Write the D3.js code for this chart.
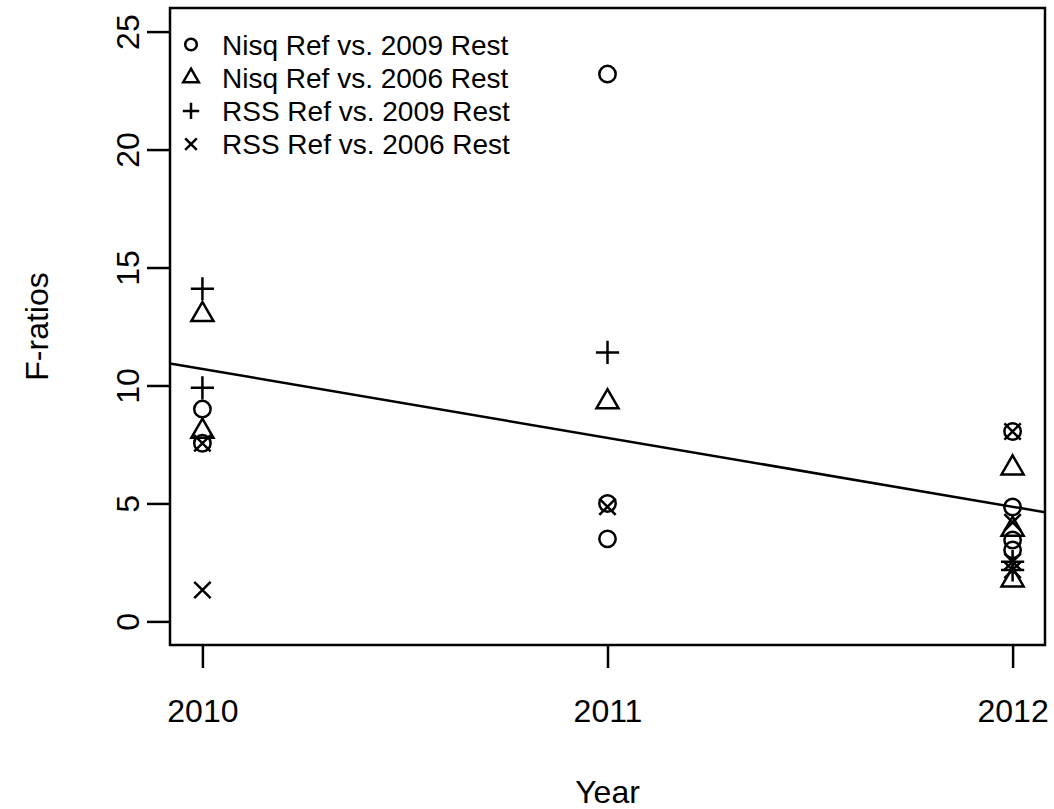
<!DOCTYPE html>
<html>
<head>
<meta charset="utf-8">
<script src="https://d3js.org/d3.v7.min.js"></script>
<style>
  body { margin: 0; background: #fff; }
  text { font-family: "Liberation Sans", Arial, sans-serif; fill: #000; }
</style>
</head>
<body>
<script>
// Years on the x axis
var years = [2010, 2011, 2012];
var yTicks = [0, 5, 10, 15, 20, 25];

// Nisq Ref vs. 2009 Rest (circles)
var nisq2009Year = [2010, 2010, 2011, 2011, 2011, 2012, 2012, 2012, 2012];
var nisq2009F    = [9.0, 7.55, 23.2, 5.0, 3.5, 8.05, 4.85, 3.45, 3.03];

// Nisq Ref vs. 2006 Rest (triangles)
var nisq2006Year = [2010, 2010, 2011, 2012, 2012, 2012];
var nisq2006F    = [13.0, 8.05, 9.3, 6.5, 3.9, 1.75];

// RSS Ref vs. 2009 Rest (plus)
var rss2009Year = [2010, 2010, 2011, 2012, 2012];
var rss2009F    = [14.1, 9.9, 11.4, 2.53, 2.18];

// RSS Ref vs. 2006 Rest (x)
var rss2006Year = [2010, 2010, 2011, 2012, 2012, 2012, 2012];
var rss2006F    = [7.55, 1.33, 4.86, 8.05, 4.2, 2.53, 2.18];

var legendLabels = ['Nisq Ref vs. 2009 Rest', 'Nisq Ref vs. 2006 Rest',
                    'RSS Ref vs. 2009 Rest', 'RSS Ref vs. 2006 Rest'];
var legendShapes = ['circle', 'triangle', 'plus', 'cross'];

// fitted line: value at 2010 and slope per year
var fitAt2010 = 10.7;
var fitSlope = -2.92;

var width = 1054, height = 809;
var box = {left: 170, right: 1045, top: 8, bottom: 645};
var lw = 2.5;

var svg, x, y;

initializeChart();

function initializeChart() {
    svg = d3.select('body')
            .append('svg')
              .attr('width', width)
              .attr('height', height);

    // R style 4% padding round the data range
    x = d3.scaleLinear()
          .domain([2009.92, 2012.08])
          .range([box.left, box.right]);
    y = d3.scaleLinear()
          .domain([-1, 26])
          .range([box.bottom, box.top]);

    drawAxes();
    drawFit();

    drawPoints(nisq2009Year, nisq2009F, 'circle');
    drawPoints(nisq2006Year, nisq2006F, 'triangle');
    drawPoints(rss2009Year, rss2009F, 'plus');
    drawPoints(rss2006Year, rss2006F, 'cross');

    drawLegend();
}

function drawAxes() {
    svg.append('rect')
        .attr('x', box.left)
        .attr('y', box.top)
        .attr('width', box.right - box.left)
        .attr('height', box.bottom - box.top)
        .attr('fill', 'none')
        .attr('stroke', '#000')
        .attr('stroke-width', lw);

    var xAxis = svg.append('g')
        .attr('transform', 'translate(0,' + box.bottom + ')')
        .call(d3.axisBottom(x)
                .tickValues(years)
                .tickFormat(d3.format('d'))
                .tickSize(23)
                .tickPadding(31));
    xAxis.select('.domain').remove();
    xAxis.selectAll('line').attr('stroke-width', lw);
    xAxis.selectAll('text')
        .attr('font-size', 32)
        .attr('font-family', '"Liberation Sans", Arial, sans-serif');

    var yAxis = svg.append('g')
        .attr('transform', 'translate(' + box.left + ',0)')
        .call(d3.axisLeft(y)
                .tickValues(yTicks)
                .tickSize(23));
    yAxis.select('.domain').remove();
    yAxis.selectAll('line').attr('stroke-width', lw);
    yAxis.selectAll('text')
        .attr('font-size', 32)
        .attr('font-family', '"Liberation Sans", Arial, sans-serif')
        .attr('text-anchor', 'middle')
        .attr('dy', null)
        .attr('x', null)
        .attr('transform', 'translate(-31,0) rotate(-90)');

    svg.append('text')
        .attr('x', (box.left + box.right) / 2)
        .attr('y', 803)
        .attr('text-anchor', 'middle')
        .attr('font-size', 32)
        .text('Year');

    svg.append('text')
        .attr('transform', 'translate(48,' + (box.top + box.bottom) / 2 + ') rotate(-90)')
        .attr('text-anchor', 'middle')
        .attr('font-size', 32)
        .text('F-ratios');
}

function drawFit() {
    var ends = x.domain();
    svg.append('line')
        .attr('x1', x(ends[0]))
        .attr('y1', y(fitAt2010 + fitSlope * (ends[0] - 2010)))
        .attr('x2', x(ends[1]))
        .attr('y2', y(fitAt2010 + fitSlope * (ends[1] - 2010)))
        .attr('stroke', '#000')
        .attr('stroke-width', lw);
}

// R pch glyphs: 1 circle, 2 triangle, 3 plus, 4 cross
function symbolPath(shape, r) {
    var p = d3.path();
    if (shape === 'circle') {
        p.moveTo(r, 0);
        p.arc(0, 0, r, 0, 2 * Math.PI);
    } else if (shape === 'triangle') {
        var tr = 1.5551 * r, xc = tr * Math.sqrt(3) / 2, yc = tr / 2;
        p.moveTo(0, -tr);
        p.lineTo(xc, yc);
        p.lineTo(-xc, yc);
        p.closePath();
    } else if (shape === 'plus') {
        var c = Math.SQRT2 * r;
        p.moveTo(-c, 0); p.lineTo(c, 0);
        p.moveTo(0, -c); p.lineTo(0, c);
    } else {
        p.moveTo(-r, -r); p.lineTo(r, r);
        p.moveTo(-r, r); p.lineTo(r, -r);
    }
    return p.toString();
}

function drawPoints(xs, vals, shape) {
    svg.append('g')
      .selectAll('path')
      .data(vals)
      .enter()
      .append('path')
        .attr('d', symbolPath(shape, 8.2))
        .attr('transform', function(d, i) {
          return 'translate(' + x(xs[i]) + ',' + y(d) + ')';
        })
        .attr('fill', 'none')
        .attr('stroke', '#000')
        .attr('stroke-width', lw);
}

function drawLegend() {
    var rows = svg.append('g')
      .selectAll('g')
      .data(legendLabels)
      .enter()
      .append('g')
        .attr('transform', function(d, i) {
          return 'translate(191,' + (44.5 + i * 33.2) + ')';
        });

    rows.append('path')
        .attr('d', function(d, i) { return symbolPath(legendShapes[i], 5.8); })
        .attr('fill', 'none')
        .attr('stroke', '#000')
        .attr('stroke-width', lw);

    rows.append('text')
        .attr('x', 31)
        .attr('y', 10)
        .attr('font-size', 28)
        .text(function(d) { return d; });
}
</script>
</body>
</html>
